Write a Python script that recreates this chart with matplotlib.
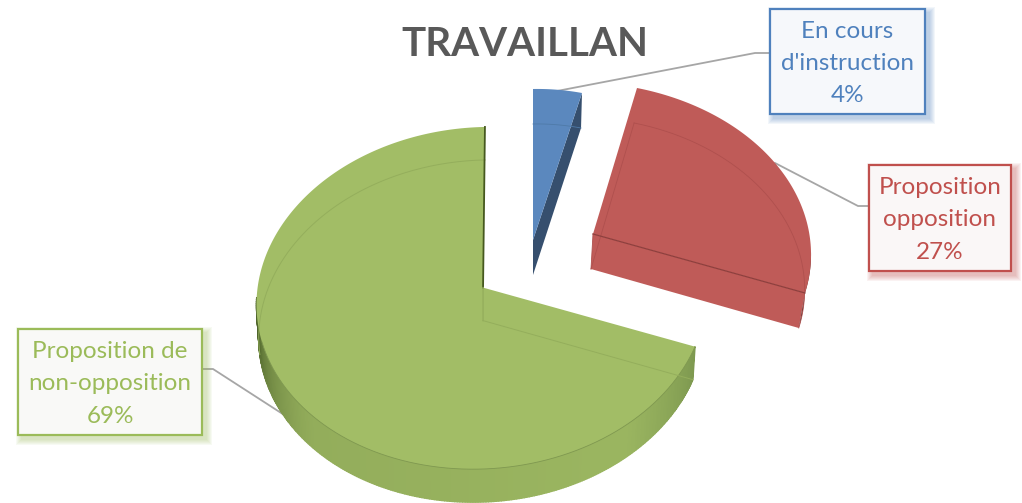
import numpy as np
import matplotlib
matplotlib.use("Agg")
import matplotlib.pyplot as plt
from matplotlib.patches import Polygon, Rectangle

title = "TRAVAILLAN"
names = ["En cours\nd'instruction", "Proposition\nopposition", "Proposition de\nnon-opposition"]
shares = [4, 27, 69]

BLUE, RED, GREEN = 0, 1, 2
top_colors = ["#5B88BE", "#BF5B58", "#A2BD66"]
line_colors = ["#4F7AA8", "#AF504E", "#94AE5C"]
text_colors = ["#4F81BD", "#C0504D", "#9BBB59"]
box_fills = ["#F6F8FB", "#FAF7F7", "#F9F9F7"]

plt.rcParams['font.family'] = ['Lato', 'DejaVu Sans']

fig = plt.figure(figsize=(10.22, 5.03), dpi=100)
ax = fig.add_axes([0, 0, 1, 1])
ax.set_xlim(0, 1022)
ax.set_ylim(503, 0)
ax.axis("off")

# clockwise from 12 o'clock
edges = np.concatenate([[0], np.cumsum(shares)]) * 3.6


def disc(theta, r=1.0):
    t = np.radians(theta)
    return r * np.sin(t), r * np.cos(t)


def fit_view(pairs):
    # homography from the unit pie to pixels, least squares on anchor points
    A, b = [], []
    for (u, v), (x, y) in pairs:
        A.append([u, v, 1, 0, 0, 0, -u * x, -v * x])
        A.append([0, 0, 0, u, v, 1, -u * y, -v * y])
        b += [x, y]
    return np.linalg.lstsq(np.array(A), np.array(b), rcond=None)[0]


def project(h, u, v):
    w = h[6] * u + h[7] * v + 1
    return (h[0] * u + h[1] * v + h[2]) / w, (h[3] * u + h[4] * v + h[5]) / w


def lower(x, y, apex_x, dx, depth, shrink=0.98):
    # bottom face of a slice, a bit narrower as it is further from the eye
    return apex_x + dx + shrink * (x - apex_x), y + depth


views = [
    fit_view([((0, 0), (533, 240)), (disc(edges[0]), (533, 89)), (disc(edges[1]), (582, 93)),
              ((1, 0), (743, 252))]),
    fit_view([((0, 0), (593, 234)), (disc(edges[1]), (637, 88)), (disc(edges[2]), (805, 293)),
              (disc((edges[1] + edges[2]) / 2), (775, 163))]),
    fit_view([((0, 0), (483, 287)), (disc(edges[3]), (485, 127)), (disc(edges[2]), (695, 347)),
              (disc(180), (481, 469)), (disc(270), (257, 293))]),
]
apex_x = [533, 593, 483]
shift_x = [0, -2, 0]
depth = [35, 35, 33]


def outline(i, n=200):
    th = np.linspace(edges[i], edges[i + 1], n)
    u, v = disc(th)
    x, y = project(views[i], u, v)
    x0, y0 = project(views[i], 0.0, 0.0)
    return np.r_[x0, x], np.r_[y0, y]


def mix(c1, c2, f):
    a = np.array(matplotlib.colors.to_rgb(c1))
    b = np.array(matplotlib.colors.to_rgb(c2))
    return a + (b - a) * f


# leader lines go under the pie
grey = "#A6A6A6"
ax.plot([557, 755, 771], [91, 53, 53], color=grey, lw=1.3, zorder=1)
ax.plot([775, 858, 869], [163, 206, 206], color=grey, lw=1.3, zorder=1)
ax.plot([202, 213, 292], [369, 369, 420], color=grey, lw=1.3, zorder=1)

# green slice
i = GREEN
x, y = outline(i, 400)
bx, by = lower(x, y, apex_x[i], shift_x[i], depth[i], 0.99)
n = len(x)
for k in range(1, n - 1):
    th = edges[i] + (edges[i + 1] - edges[i]) * (k - 1) / (n - 2)
    if th > 268:
        continue
    if th < 150:
        c = mix("#7E9950", "#9AB560", min((th - edges[i]) / 30, 1))
    elif th < 225:
        c = mix("#9AB560", "#93AD5B", (th - 150) / 75)
    else:
        c = mix("#93AD5B", "#4F652C", min(((th - 225) / 40) ** 1.3, 1))
    quad = [(x[k], y[k]), (x[k + 1], y[k + 1]), (bx[k + 1], by[k + 1]), (bx[k], by[k])]
    ax.add_patch(Polygon(quad, fc=c, ec=c, lw=1.0, zorder=2))
ax.add_patch(Polygon(np.c_[x, y], fc=top_colors[i], ec="none", zorder=3))
ax.plot(x[1:230], y[1:230], color="#7F9850", lw=0.6, zorder=4)
ax.plot(bx[240:], by[240:], color=line_colors[i], lw=0.7, zorder=4)
ax.plot([bx[0], bx[1]], [by[0], by[1]], color=line_colors[i], lw=0.7, zorder=4)
ax.plot([x[-1], x[0]], [y[-1], y[0]], color="#46591F", lw=1.3, zorder=4)
ax.plot([x[0], bx[0]], [y[0], by[0]], color=line_colors[i], lw=1.0, zorder=4)

# blue slice, its dark side wall shows
i = BLUE
x, y = outline(i, 30)
bx, by = lower(x, y, apex_x[i], shift_x[i], depth[i])
wall = [(x[0], y[0]), (x[-1], y[-1]), (bx[-1], by[-1]), (bx[0], by[0])]
ax.add_patch(Polygon(wall, fc="#364F6E", ec="none", zorder=2))
ax.add_patch(Polygon(np.c_[x, y], fc=top_colors[i], ec="none", zorder=3))
ax.plot(bx[1:], by[1:], color=line_colors[i], lw=0.6, zorder=4)

# red slice
i = RED
x, y = outline(i)
bx, by = lower(x, y, apex_x[i], shift_x[i], depth[i])
wall = [(x[0], y[0]), (x[-1], y[-1]), (bx[-1], by[-1]), (bx[0], by[0])]
ax.add_patch(Polygon(wall, fc=top_colors[i], ec="none", zorder=2))
side = np.r_[np.c_[x[170:], y[170:]], np.c_[bx[170:], by[170:]][::-1]]
ax.add_patch(Polygon(side, fc="#5E2A28", ec="none", zorder=2))
ax.add_patch(Polygon(np.c_[x, y], fc=top_colors[i], ec="none", zorder=3))
ax.plot(bx[1:], by[1:], color=line_colors[i], lw=0.6, zorder=4)
ax.plot([bx[0], bx[1]], [by[0], by[1]], color=line_colors[i], lw=0.6, zorder=4)
ax.plot([x[0], bx[0]], [y[0], by[0]], color=line_colors[i], lw=0.6, zorder=4)
ax.plot([x[0], x[-1]], [y[0], y[-1]], color="#8E3F3D", lw=0.9, zorder=4)

ax.text(525, 44, title, color="#595959", fontsize=29, fontweight="bold",
        ha="center", va="center", zorder=6)

# label boxes with a soft shadow
boxes = [(770, 9, 155, 105), (869, 165, 142, 106), (18, 329, 184, 106)]
for j, (bx0, by0, bw, bh) in enumerate(boxes):
    for g in range(6, 0, -1):
        ax.add_patch(Rectangle((bx0 + 3 - g + 1, by0 + 3 - g + 1), bw + 2 * g, bh + 2 * g,
                               fc=text_colors[j], ec="none", alpha=0.07, zorder=7))
    ax.add_patch(Rectangle((bx0, by0), bw, bh, fc=box_fills[j], ec=text_colors[j], lw=1.6, zorder=8))
    ax.text(bx0 + bw / 2, by0 + bh / 2 + 2, "%s\n%d%%" % (names[j], shares[j]), color=text_colors[j],
            fontsize=17.5, ha="center", va="center", linespacing=1.66, zorder=9)

fig.savefig("out.png", dpi=100)
